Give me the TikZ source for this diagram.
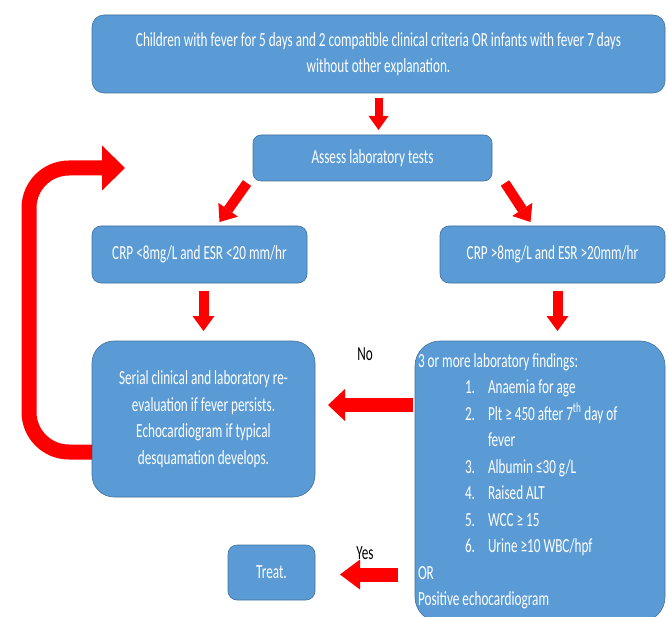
\documentclass[tikz,border=0pt]{standalone}
\usepackage{fontspec}
\setmainfont{Carlito}[FakeStretch=0.66]
\usetikzlibrary{arrows.meta,calc}
\definecolor{KawaBlue}{HTML}{5B9BD5}
\definecolor{KawaEdge}{HTML}{41719C}
\definecolor{KawaRed}{HTML}{FF0000}

\begin{document}
\begin{tikzpicture}[x=1pt, y=-1pt,
  every node/.style={font=\fontsize{20}{26.5}\selectfont},
  box/.style={draw=KawaEdge, fill=KawaBlue, text=white, align=center, anchor=north west,
              outer sep=0pt, inner sep=3pt, line width=0.6pt},
  flow/.style args={#1/#2/#3}{draw=KawaRed, line width=#1,
              -{Triangle[width=#2, length=#3, line width=0pt]}},
  answer/.style={text=black, inner sep=1pt},
]
\useasboundingbox (0,0) rectangle (668,617);
% boxes
\node[box, rounded corners=12pt, minimum width=573pt, minimum height=78pt] (start) at (92,15)
  {Children with fever for 5 days and 2 compatible clinical criteria OR infants with fever 7 days\\without other explanation.};
\node[box, rounded corners=8pt, minimum width=239pt, minimum height=46pt] (assess) at (253,135)
  {Assess laboratory tests};
\node[box, rounded corners=9pt, minimum width=215pt, minimum height=57pt] (low) at (92,226)
  {CRP <8mg/L and ESR <20 mm/hr};
\node[box, rounded corners=9pt, minimum width=225pt, minimum height=57pt] (high) at (440,226)
  {CRP >8mg/L and ESR >20mm/hr};
\node[box, rounded corners=22pt, minimum width=223pt, minimum height=156pt] (serial) at (92,341)
  {Serial clinical and laboratory re-\\evaluation if fever persists.\\Echocardiogram if typical\\desquamation develops.};
\node[box, rounded corners=25pt, minimum width=250pt, minimum height=281pt, text width=244pt,
      align=flush left] (findings) at (415,341)
  {3 or more laboratory findings:\\
   \hspace*{47pt}\makebox[23pt][l]{1.}Anaemia for age\\
   \hspace*{47pt}\makebox[23pt][l]{2.}Plt ≥ 450 after 7\textsuperscript{th} day of\\
   \hspace*{70pt}fever\\
   \hspace*{47pt}\makebox[23pt][l]{3.}Albumin ≤30 g/L\\
   \hspace*{47pt}\makebox[23pt][l]{4.}Raised ALT\\
   \hspace*{47pt}\makebox[23pt][l]{5.}WCC ≥ 15\\
   \hspace*{47pt}\makebox[23pt][l]{6.}Urine ≥10 WBC/hpf\\
   OR\\
   Positive echocardiogram};
\node[box, rounded corners=9pt, minimum width=87pt, minimum height=55pt] (treat) at (228,545)
  {Treat.};
\coordinate (loopend) at (125,168);
% arrows
\draw[flow=8pt/20pt/14pt, shorten <=5pt, shorten >=5pt] (start.south) -- (start.south |- assess.north);
\draw[flow=10pt/24pt/15pt] ([shift={(-6pt,-2pt)}]assess.south west) -- ([shift={(20pt,4pt)}]low.north);
\draw[flow=10pt/24pt/15pt] ([shift={(13pt,-2pt)}]assess.south east) -- ([shift={(-22pt,4pt)}]high.north);
\draw[flow=10pt/22pt/15pt, shorten <=8pt, shorten >=10pt] (serial.north |- low.south) -- (serial.north);
\draw[flow=10pt/22pt/15pt, shorten <=8pt, shorten >=10pt] ([xshift=5pt]high.south) -- ([xshift=5pt]high.south |- findings.north);
\draw[flow=14pt/32pt/17pt, shorten <=2pt, shorten >=13pt] ($(serial.east -| findings.west)+(0,-14)$)
  -- node[answer, above=36pt] (no) {No} ($(serial.east)+(0,-14)$);
\draw[flow=14pt/30pt/20pt, shorten <=17pt, shorten >=25pt] ($(treat.east -| findings.west)+(0,2)$)
  -- node[answer, above=7pt] (yes) {Yes} ($(treat.east)+(0,2)$);
\draw[flow=15pt/45pt/23pt, rounded corners=40pt] ($(serial.west)+(0,33)$) -| ([xshift=-96pt]loopend) -- (loopend);
\end{tikzpicture}
\end{document}
